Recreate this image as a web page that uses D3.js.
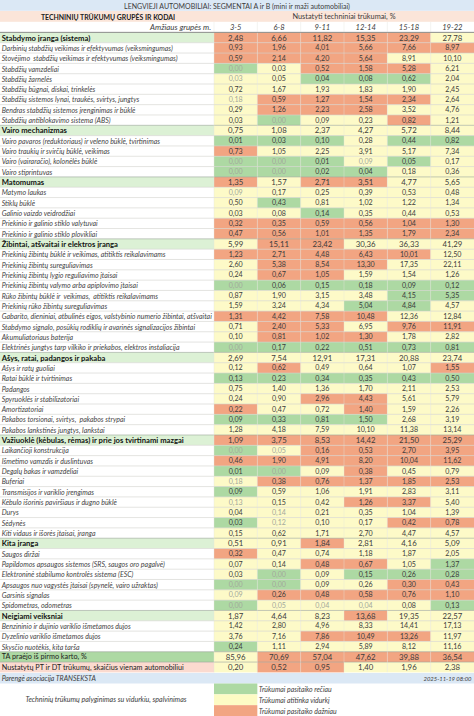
<!DOCTYPE html>
<html>
<head>
<meta charset="utf-8">
<script src="https://cdnjs.cloudflare.com/ajax/libs/d3/7.8.5/d3.min.js"></script>
<style>
body { margin: 0; background: #fff; }
svg { display: block; font-family: Lato, "Noto Sans", sans-serif; }
</style>
</head>
<body>
<svg id="chart" width="474" height="716"></svg>
<script>
//data
const ages = ["3-5", "6-8", "9-11", "12-14", "15-18", "19-22"];

const rowNames = [
  "Stabdymo įranga (sistema)",
  "Darbinių stabdžių veikimas ir efektyvumas (veiksmingumas)",
  "Stovėjimo  stabdžių veikimas ir efektyvumas (veiksmingumas)",
  "Stabdžių vamzdeliai",
  "Stabdžių žarnelės",
  "Stabdžių būgnai, diskai, trinkelės",
  "Stabdžių sistemos lynai, traukės, svirtys, jungtys",
  "Bendras stabdžių sistemos įrenginimas ir būklė",
  "Stabdžių antiblokavimo sistema (ABS)",
  "Vairo mechanizmas",
  "Vairo pavaros (reduktoriaus) ir veleno būklė, tvirtinimas",
  "Vairo traukių ir svirčių būklė, veikimas",
  "Vairo (vairaračio), kolonėlės būklė",
  "Vairo stiprintuvas",
  "Matomumas",
  "Matymo laukas",
  "Stiklų būklė",
  "Galinio vaizdo veidrodžiai",
  "Priekinio ir galinio stiklo valytuvai",
  "Priekinio ir galinio stiklo plovikliai",
  "Žibintai, atšvaitai ir elektros įranga",
  "Priekinių žibintų būklė ir veikimas, atitiktis reikalavimams",
  "Priekinių žibintų sureguliavimas",
  "Priekinių žibintų lygio reguliavimo įtaisai",
  "Priekinių žibintų valymo arba apiplovimo įtaisai",
  "Rūko žibintų būklė ir  veikimas,  atitiktis reikalavimams",
  "Priekinių rūko žibintų sureguliavimas",
  "Gabarito, dieniniai, atbulinės eigos, valstybinio numerio žibintai, atšvaitai",
  "Stabdymo signalo, posūkių rodiklių ir avarinės signalizacijos žibintai",
  "Akumuliatoriaus baterija",
  "Elektrinės jungtys tarp vilkiko ir priekabos, elektros instaliacija",
  "Ašys, ratai, padangos ir pakaba",
  "Ašys ir ratų guoliai",
  "Ratai būklė ir tvirtinimas",
  "Padangos",
  "Spyruoklės ir stabilizatoriai",
  "Amortizatoriai",
  "Pakabos torsionai, svirtys,  pakabos strypai",
  "Pakabos lankstinės jungtys, lankstai",
  "Važiuoklė (kėbulas, rėmas) ir prie jos tvirtinami mazgai",
  "Laikančioji konstrukcija",
  "Išmetimo vamzdis ir duslintuvas",
  "Degalų bakas ir vamzdeliai",
  "Buferiai",
  "Transmisijos ir variklio įrengimas",
  "Kėbulo išorinis paviršiaus ir dugno būklė",
  "Durys",
  "Sėdynės",
  "Kiti vidaus ir išorės įtaisai, įranga",
  "Kita įranga",
  "Saugos diržai",
  "Papildomos apsaugos sistemos (SRS, saugos oro pagalvė)",
  "Elektroninė stabilumo kontrolės sistema (ESC)",
  "Apsaugos nuo vagystės įtaisai (spynelė, vairo užraktas)",
  "Garsinis signalas",
  "Spidometras, odometras",
  "Neigiami veiksniai",
  "Benzininio ir dujinio variklio išmetamos dujos",
  "Dyzelinio variklio išmetamos dujos",
  "Skysčio nuotėkis, kita tarša",
  "TA praėjo iš pirmo karto, %",
  "Nustatytų PT ir DT trūkumų, skaičius vienam automobiliui"
];

const rowValues = [
  [2.48, 6.66, 11.82, 15.35, 23.29, 27.78],
  [0.93, 1.96, 4.01, 5.66, 7.66, 8.97],
  [0.59, 2.14, 4.20, 5.64, 8.91, 10.10],
  [0.00, 0.03, 0.52, 1.58, 5.28, 6.21],
  [0.03, 0.05, 0.04, 0.08, 0.62, 2.04],
  [0.72, 1.67, 1.93, 1.83, 1.90, 2.45],
  [0.18, 0.59, 1.27, 1.54, 2.34, 2.64],
  [0.29, 1.26, 2.23, 2.58, 3.52, 4.76],
  [0.03, 0.00, 0.09, 0.23, 0.82, 1.21],
  [0.75, 1.08, 2.37, 4.27, 5.72, 8.44],
  [0.01, 0.03, 0.10, 0.28, 0.44, 0.82],
  [0.73, 1.05, 2.25, 3.91, 5.17, 7.34],
  [0.00, 0.00, 0.01, 0.09, 0.05, 0.17],
  [0.00, 0.00, 0.02, 0.04, 0.18, 0.36],
  [1.35, 1.57, 2.71, 3.51, 4.77, 5.65],
  [0.09, 0.17, 0.25, 0.39, 0.53, 0.48],
  [0.50, 0.43, 0.81, 1.02, 1.22, 1.34],
  [0.03, 0.08, 0.14, 0.35, 0.44, 0.53],
  [0.32, 0.35, 0.59, 0.56, 1.04, 1.30],
  [0.47, 0.56, 1.01, 1.35, 1.79, 2.34],
  [5.99, 15.11, 23.42, 30.36, 36.33, 41.29],
  [1.23, 2.71, 4.48, 6.43, 10.01, 12.50],
  [2.60, 5.38, 8.54, 13.30, 17.35, 22.11],
  [0.24, 0.67, 1.05, 1.59, 1.54, 1.26],
  [0.00, 0.06, 0.15, 0.18, 0.09, 0.12],
  [0.87, 1.90, 3.15, 3.48, 4.15, 5.35],
  [1.59, 3.24, 4.34, 5.04, 4.84, 4.57],
  [1.31, 4.42, 7.58, 10.48, 12.36, 12.84],
  [0.71, 2.40, 5.33, 6.95, 9.76, 11.91],
  [0.10, 0.81, 1.02, 1.30, 1.78, 2.82],
  [0.00, 0.17, 0.22, 0.51, 0.73, 0.81],
  [2.69, 7.54, 12.91, 17.31, 20.88, 23.74],
  [0.12, 0.62, 0.49, 0.64, 1.07, 1.55],
  [0.13, 0.23, 0.34, 0.35, 0.43, 0.50],
  [0.75, 1.40, 1.36, 1.70, 2.11, 2.53],
  [0.24, 0.90, 2.96, 4.43, 5.61, 5.79],
  [0.22, 0.47, 0.72, 1.40, 1.59, 2.26],
  [0.09, 0.33, 0.81, 1.50, 2.68, 3.19],
  [1.28, 4.18, 7.59, 10.10, 11.38, 13.14],
  [1.09, 3.75, 8.53, 14.42, 21.50, 25.29],
  [0.00, 0.05, 0.16, 0.53, 2.70, 3.95],
  [0.46, 1.90, 4.91, 8.20, 10.04, 11.62],
  [0.01, 0.00, 0.09, 0.38, 0.45, 0.79],
  [0.18, 0.38, 0.76, 1.37, 1.85, 2.53],
  [0.09, 0.59, 1.06, 1.91, 2.83, 3.11],
  [0.13, 0.15, 0.42, 1.26, 3.37, 5.40],
  [0.04, 0.14, 0.21, 0.35, 1.04, 1.39],
  [0.03, 0.12, 0.10, 0.17, 0.42, 0.78],
  [0.15, 0.62, 1.71, 2.70, 4.47, 4.57],
  [0.51, 0.91, 1.84, 2.81, 4.16, 5.09],
  [0.32, 0.47, 0.74, 1.18, 1.87, 2.05],
  [0.07, 0.14, 0.48, 0.67, 1.05, 1.37],
  [0.03, 0.00, 0.09, 0.15, 0.26, 0.28],
  [0.00, 0.00, 0.09, 0.26, 0.30, 0.43],
  [0.09, 0.26, 0.48, 0.58, 0.76, 1.10],
  [0.00, 0.05, 0.04, 0.04, 0.08, 0.13],
  [1.87, 4.64, 8.23, 13.68, 19.35, 22.57],
  [1.42, 2.80, 4.96, 8.33, 14.41, 17.13],
  [3.76, 7.16, 7.86, 10.49, 13.26, 11.97],
  [0.24, 1.11, 2.94, 5.89, 8.12, 11.16],
  [85.96, 70.69, 57.04, 47.62, 39.88, 36.54],
  [0.20, 0.52, 0.95, 1.40, 1.96, 2.38]
];

// r = reciau, a = atitinka vidurki, d = dazniau; capital letter = faint figure
const rowRatings = [
  "ddddda", "dddddd", "ddddaa", "Raddda", "Aarrra", "aaaaaa",
  "Adddda", "adddaa", "aRaada", "aaaaaa", "rrrarr", "daaaaa",
  "RRrAra", "RRrraa", "daddaa", "Aaaaaa", "araaaa", "aaraaa",
  "dddddd", "dddddd", "addaaa", "ddddda", "adddaa", "addaaa",
  "Rrrrrr", "aaaarr", "aaarra", "ddddaa", "addadd", "adddaa",
  "Rrrrrr", "aaaaaa", "adaaad", "rrrrrr", "aaaaaa", "aaddaa",
  "daadaa", "rrrraa", "aaaaaa", "dddddd", "RAdddd", "dddddd",
  "rRadaa", "Addddd", "raaaaa", "Aaadda", "aAaaaa", "rAaadd",
  "aaaaaa", "aadaaa", "daaaaa", "aaddar", "aRarrr", "RRaadd",
  "Addddd", "RAAAar", "aaadaa", "aaaaaa", "aaddda", "raaaaa",
  "addddd", "addaaa"
];

const groupRows = [
  "Stabdymo įranga (sistema)", "Vairo mechanizmas", "Matomumas",
  "Žibintai, atšvaitai ir elektros įranga", "Ašys, ratai, padangos ir pakaba",
  "Važiuoklė (kėbulas, rėmas) ir prie jos tvirtinami mazgai", "Kita įranga", "Neigiami veiksniai"
];
const passRow = "TA praėjo iš pirmo karto, %";
const countRow = "Nustatytų PT ir DT trūkumų, skaičius vienam automobiliui";

const legendKeys = ["r", "a", "d"];
const legendLabels = ["Trūkumai pasitaiko rečiau", "Trūkumai atitinka vidurkį", "Trūkumai pasitaiko dažniau"];

//config
const ww = 474;
const wh = 716;
const labelW = 214;
const darkText = "#3c3c3c";
const ratingColor = d3.scaleOrdinal(["r", "a", "d"], ["#add9a3", "#fdfac8", "#f2a582"]);
const fmt = d3.formatLocale({decimal: ",", thousands: " ", grouping: [3], currency: ["", ""]}).format(".2f");

const x = d3.scaleBand(ages, [labelW, ww]);
const y = d3.scaleBand(rowNames, [32.4, 672.4]);
const legendY = d3.scaleBand(legendKeys, [683.5, 716]);

const svg = d3.select("#chart");

const band = (x0, y0, w, h, fill) => svg.append("rect")
  .attr("x", x0).attr("y", y0).attr("width", w).attr("height", h).attr("fill", fill);

const label = (x0, y0, str, anchor, size, extra) => {
  const t = svg.append("text")
    .attr("x", x0).attr("y", y0)
    .attr("text-anchor", anchor)
    .attr("dominant-baseline", "central")
    .attr("font-size", size)
    .attr("fill", darkText)
    .attr("xml:space", "preserve")
    .text(str);
  if (extra) Object.keys(extra).forEach(k => t.attr(k, extra[k]));
  return t;
};

//header
band(0, 0, ww, 10.8, "#dbe8f5");
label(ww / 2, 5.6, "LENGVIEJI AUTOMOBILIAI: SEGMENTAI A ir B (mini ir maži automobiliai)", "middle", 7);
band(0, 11, ww, 10.8, "#fbe5d9");
label(108, 16.8, "TECHNINIŲ TRŪKUMŲ GRUPĖS IR KODAI", "middle", 6.9, {"font-weight": 700, fill: "#222"});
label((labelW + ww) / 2, 16.8, "Nustatyti techniniai trūkumai, %", "middle", 7.35);
label(labelW - 3, 27.3, "Amžiaus grupės m.", "end", 7.85, {"font-style": "italic"});
svg.selectAll(".age").data(ages).join("text")
  .attr("class", "age")
  .attr("x", d => x(d) + x.bandwidth() / 2)
  .attr("y", 27.3)
  .attr("text-anchor", "middle")
  .attr("dominant-baseline", "central")
  .attr("font-size", 7.6)
  .attr("font-style", "italic")
  .attr("fill", darkText)
  .text(d => d);

//rows
const rowData = rowNames.map((name, i) => ({
  name,
  values: rowValues[i],
  ratings: rowRatings[i],
  strong: groupRows.includes(name),
  summary: name === passRow || name === countRow
}));

const rowFill = d => d.name === passRow ? "#add9a3"
  : d.name === countRow ? "#fbdacf"
  : d.strong ? "#dcf1d5" : "#fff";

const labelSize = d => d.strong ? 7.65 : d.summary ? 7.25 : 7;

const rows = svg.selectAll(".row").data(rowData).join("g")
  .attr("class", "row")
  .attr("transform", d => `translate(0,${y(d.name)})`);

rows.append("rect")
  .attr("width", labelW)
  .attr("height", y.bandwidth())
  .attr("fill", rowFill);

rows.append("text")
  .attr("x", 1.7)
  .attr("y", y.bandwidth() / 2)
  .attr("dominant-baseline", "central")
  .attr("xml:space", "preserve")
  .attr("font-size", labelSize)
  .attr("font-weight", d => d.strong ? 700 : 400)
  .attr("font-style", d => d.strong || d.summary ? "normal" : "italic")
  .attr("fill", d => d.strong ? "#111" : d.summary ? "#222" : "#444")
  .text(d => d.name);

const cells = rows.selectAll(".cell")
  .data(d => ages.map((age, i) => ({
    age,
    value: d.values[i],
    rating: d.ratings[i].toLowerCase(),
    faint: d.ratings[i] !== d.ratings[i].toLowerCase(),
    big: d.strong || d.summary
  })))
  .join("g")
  .attr("class", "cell")
  .attr("transform", d => `translate(${x(d.age)},0)`);

cells.append("rect")
  .attr("width", x.bandwidth())
  .attr("height", y.bandwidth())
  .attr("fill", d => ratingColor(d.rating));

cells.append("text")
  .attr("x", x.bandwidth() / 2)
  .attr("y", y.bandwidth() / 2)
  .attr("text-anchor", "middle")
  .attr("dominant-baseline", "central")
  .attr("font-size", d => d.big ? 7.8 : 7.1)
  .attr("fill", d => d.faint ? "#a3a89c" : darkText)
  .text(d => fmt(d.value));

//row separators
svg.selectAll(".sep").data(rowNames).join("line")
  .attr("class", "sep")
  .attr("x1", 0).attr("x2", ww)
  .attr("y1", d => y(d)).attr("y2", d => y(d))
  .attr("stroke", d => groupRows.includes(d) || d === passRow || d === countRow ? "#9aa59a" : "#d2d2cc")
  .attr("stroke-width", 0.6);

//column separators
svg.selectAll(".colsep").data(ages).join("line")
  .attr("class", "colsep")
  .attr("x1", d => x(d)).attr("x2", d => x(d))
  .attr("y1", 22).attr("y2", 672.4)
  .attr("stroke", "#e3e3dc")
  .attr("stroke-width", 0.4);

svg.append("line")
  .attr("x1", 0).attr("x2", ww).attr("y1", 32.4).attr("y2", 32.4)
  .attr("stroke", "#888").attr("stroke-width", 0.8);

//footer
band(0, 673, ww, 10.5, "#dbe8f5");
label(1.7, 678.3, "Parengė asociacija TRANSEKSTA", "start", 6.95, {"font-style": "italic"});
label(471.5, 678.3, "2025-11-19 08:00", "end", 5.9, {"font-style": "italic"});

label(106, 699.8, "Techninių trūkumų palyginimas su vidurkiu, spalvinimas", "middle", 7.05, {"font-style": "italic"});

svg.selectAll(".swatch").data(legendKeys).join("rect")
  .attr("class", "swatch")
  .attr("x", x(ages[0]))
  .attr("y", d => legendY(d))
  .attr("width", x.bandwidth())
  .attr("height", legendY.bandwidth())
  .attr("fill", d => d === "a" ? "#fdfbc4" : ratingColor(d));

svg.selectAll(".legtext").data(legendLabels).join("text")
  .attr("class", "legtext")
  .attr("x", x(ages[1]) + 1.5)
  .attr("y", (d, i) => legendY(legendKeys[i]) + legendY.bandwidth() / 2)
  .attr("dominant-baseline", "central")
  .attr("font-size", 6.9)
  .attr("font-style", "italic")
  .attr("fill", darkText)
  .text(d => d);
</script>
</body>
</html>
